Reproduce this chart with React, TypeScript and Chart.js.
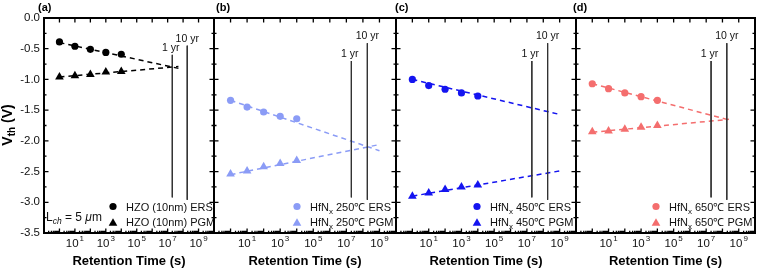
import React, { useEffect, useRef } from "react";
import { Chart, registerables } from "chart.js";

Chart.register(...registerables);

const W = 760;
const H = 270;
const FONT = '"Liberation Sans", Arial, Helvetica, sans-serif';

// ---- data ----
const retentionTime = [1, 10, 100, 1000, 10000];

const ersA = [-0.39, -0.46, -0.51, -0.56, -0.59];
const pgmA = [-0.96, -0.94, -0.92, -0.88, -0.87];
const fitTimeA = [1, 5e7];
const ersFitA = [-0.4, -0.82];
const pgmFitA = [-0.96, -0.79];

const ersB = [-1.34, -1.45, -1.53, -1.6, -1.64];
const pgmB = [-2.54, -2.49, -2.42, -2.37, -2.32];
const fitTimeB = [1, 1e9];
const ersFitB = [-1.34, -2.16];
const pgmFitB = [-2.55, -2.06];

const ersC = [-1.0, -1.1, -1.16, -1.22, -1.27];
const pgmC = [-2.9, -2.85, -2.79, -2.75, -2.72];
const fitTimeC = [1, 1e9];
const ersFitC = [-1.0, -1.57];
const pgmFitC = [-2.9, -2.49];

const ersD = [-1.07, -1.15, -1.22, -1.28, -1.34];
const pgmD = [-1.85, -1.84, -1.81, -1.78, -1.75];
const fitTimeD = [1, 2.5e8];
const ersFitD = [-1.07, -1.66];
const pgmFitD = [-1.86, -1.65];

const yearTimes = [2e7, 1.85e8];
const yearLabels = ["1 yr", "10 yr"];
const yearTopA = [-0.6, -0.45];
const yearTopOther = [-0.7, -0.41];
const yearBottom = [-2.92, -2.96];

const xTickExponents = [1, 3, 5, 7, 9];
const yTickValues = [0, -0.5, -1, -1.5, -2, -2.5, -3, -3.5];
const yTickLabels = ["0.0", "-0.5", "-1.0", "-1.5", "-2.0", "-2.5", "-3.0", "-3.5"];
const panelLabels = ["(a)", "(b)", "(c)", "(d)"];
const materialNames = ["HZO (10nm)", "HfN", "HfN", "HfN"];
const materialTemps = ["", "250℃", "450℃", "650℃"];
const stateNames = ["ERS", "PGM"];
const panelColors = ["#000000", "#8b9cf6", "#1414f0", "#f46e6e"];

type PanelCfg = {
  idx: number;
  left: number;
  right: number;
  labelX: number;
  ers: number[];
  pgm: number[];
  fitT: number[];
  ersFit: number[];
  pgmFit: number[];
  yearTop: number[];
};

const TOP = 18;
const BOTTOM = 233;

const panels: PanelCfg[] = [
  { idx: 0, left: 44, right: 214, labelX: 38, ers: ersA, pgm: pgmA, fitT: fitTimeA, ersFit: ersFitA, pgmFit: pgmFitA, yearTop: yearTopA },
  { idx: 1, left: 214, right: 396, labelX: 216, ers: ersB, pgm: pgmB, fitT: fitTimeB, ersFit: ersFitB, pgmFit: pgmFitB, yearTop: yearTopOther },
  { idx: 2, left: 396, right: 576, labelX: 395, ers: ersC, pgm: pgmC, fitT: fitTimeC, ersFit: ersFitC, pgmFit: pgmFitC, yearTop: yearTopOther },
  { idx: 3, left: 576, right: 757, labelX: 573, ers: ersD, pgm: pgmD, fitT: fitTimeD, ersFit: ersFitD, pgmFit: pgmFitD, yearTop: yearTopOther },
];

function drawTriangle(ctx: CanvasRenderingContext2D, x: number, y: number, r: number) {
  const a = (2 * Math.PI) / 3;
  ctx.beginPath();
  ctx.moveTo(x, y - r);
  ctx.lineTo(x + Math.sin(a) * r, y - Math.cos(a) * r);
  ctx.lineTo(x + Math.sin(2 * a) * r, y - Math.cos(2 * a) * r);
  ctx.closePath();
  ctx.fill();
}

function makeOverlay(p: PanelCfg) {
  const color = panelColors[p.idx];
  return {
    id: "overlay" + p.idx,
    afterDraw(chart: any) {
      const ctx: CanvasRenderingContext2D = chart.ctx;
      const xs = chart.scales.x;
      const ys = chart.scales.y;
      const { left, right, top, bottom } = chart.chartArea;
      ctx.save();

      // year labels
      ctx.fillStyle = "#111";
      ctx.font = `10.5px ${FONT}`;
      ctx.textAlign = "center";
      ctx.textBaseline = "alphabetic";
      yearTimes.forEach((t, i) => {
        const x = xs.getPixelForValue(t);
        const yt = ys.getPixelForValue(p.yearTop[i]);
        ctx.fillText(yearLabels[i], x - (i === 0 ? 1.5 : 0), yt - 4);
      });

      // frame
      ctx.strokeStyle = "#000";
      ctx.lineWidth = 2;
      ctx.strokeRect(left, top, right - left, bottom - top);

      // y ticks
      ctx.lineWidth = 1.3;
      ctx.beginPath();
      for (let k = 0; k <= 14; k++) {
        const v = -0.25 * k;
        const y = ys.getPixelForValue(v);
        const len = k % 2 === 0 ? 4.5 : 2.5;
        ctx.moveTo(left, y);
        ctx.lineTo(left + len, y);
        ctx.moveTo(right, y);
        ctx.lineTo(right - len, y);
      }
      // x ticks
      for (let e = -1; e <= 10; e++) {
        const x = xs.getPixelForValue(Math.pow(10, e));
        if (x < left - 0.5 || x > right + 0.5) continue;
        ctx.moveTo(x, top);
        ctx.lineTo(x, top + 4.5);
        ctx.moveTo(x, bottom);
        ctx.lineTo(x, bottom - 4.5);
        for (let m = 2; m <= 9; m++) {
          const xm = xs.getPixelForValue(m * Math.pow(10, e));
          if (xm >= right) continue;
          ctx.moveTo(xm, bottom);
          ctx.lineTo(xm, bottom - 2.2);
        }
      }
      ctx.stroke();

      // x tick labels
      ctx.fillStyle = "#111";
      ctx.textAlign = "left";
      xTickExponents.forEach((e) => {
        const cx = xs.getPixelForValue(Math.pow(10, e));
        ctx.font = `11.5px ${FONT}`;
        const bw = ctx.measureText("10").width;
        ctx.font = `8px ${FONT}`;
        const sw = ctx.measureText(String(e)).width;
        const x0 = cx - (bw + sw + 1) / 2;
        ctx.font = `11.5px ${FONT}`;
        ctx.fillText("10", x0, 247);
        ctx.font = `8px ${FONT}`;
        ctx.fillText(String(e), x0 + bw + 1, 241);
      });

      // x title
      ctx.font = `bold 13px ${FONT}`;
      ctx.textAlign = "center";
      ctx.fillStyle = "#000";
      ctx.fillText("Retention Time (s)", (left + right) / 2, 265);

      // panel label
      ctx.font = `bold 11px ${FONT}`;
      ctx.textAlign = "left";
      ctx.fillText(panelLabels[p.idx], p.labelX, 11);

      // legend
      const mx = right - (p.idx === 0 ? 101 : 99);
      const rows = [206.5, 222];
      rows.forEach((ry, r) => {
        ctx.fillStyle = color;
        if (r === 0) {
          ctx.beginPath();
          ctx.arc(mx, ry, 3.6, 0, Math.PI * 2);
          ctx.fill();
        } else {
          drawTriangle(ctx, mx, ry + 1.2, 5);
        }
        ctx.fillStyle = "#111";
        ctx.textAlign = "left";
        let tx = mx + 13;
        const by = ry + 4;
        ctx.font = `11px ${FONT}`;
        ctx.fillText(materialNames[p.idx], tx, by);
        tx += ctx.measureText(materialNames[p.idx]).width;
        if (p.idx > 0) {
          ctx.font = `8px ${FONT}`;
          ctx.fillText("x", tx, by + 3);
          tx += ctx.measureText("x").width;
          ctx.font = `11px ${FONT}`;
          const s = " " + materialTemps[p.idx];
          ctx.fillText(s, tx, by);
          tx += ctx.measureText(s).width;
        }
        ctx.font = `11px ${FONT}`;
        ctx.fillText(" " + stateNames[r], tx, by);
      });

      if (p.idx === 0) {
        // y tick labels
        ctx.fillStyle = "#111";
        ctx.font = `11.5px ${FONT}`;
        ctx.textAlign = "right";
        ctx.textBaseline = "middle";
        yTickValues.forEach((v, i) => {
          ctx.fillText(yTickLabels[i], left - 4, ys.getPixelForValue(v));
        });
        ctx.textBaseline = "alphabetic";

        // L_ch = 5 um
        ctx.fillStyle = "#111";
        ctx.textAlign = "left";
        let lx = left + 2;
        const ly = 221;
        ctx.font = `12px ${FONT}`;
        ctx.fillText("L", lx, ly);
        lx += ctx.measureText("L").width;
        ctx.font = `italic 8.5px ${FONT}`;
        ctx.fillText("ch", lx, ly + 3);
        lx += ctx.measureText("ch").width;
        ctx.font = `12px ${FONT}`;
        ctx.fillText(" = 5 ", lx, ly);
        lx += ctx.measureText(" = 5 ").width;
        ctx.font = `italic 12px ${FONT}`;
        ctx.fillText("μ", lx, ly);
        lx += ctx.measureText("μ").width;
        ctx.font = `12px ${FONT}`;
        ctx.fillText("m", lx, ly);

        // y title
        ctx.save();
        ctx.translate(12, 125);
        ctx.rotate(-Math.PI / 2);
        ctx.fillStyle = "#000";
        ctx.font = `bold 14px ${FONT}`;
        const w1 = ctx.measureText("V").width;
        ctx.font = `bold 10px ${FONT}`;
        const w2 = ctx.measureText("th").width;
        ctx.font = `bold 14px ${FONT}`;
        const w3 = ctx.measureText(" (V)").width;
        let vx = -(w1 + w2 + w3) / 2;
        ctx.textAlign = "left";
        ctx.fillText("V", vx, 0);
        vx += w1;
        ctx.font = `bold 10px ${FONT}`;
        ctx.fillText("th", vx, 3);
        vx += w2;
        ctx.font = `bold 14px ${FONT}`;
        ctx.fillText(" (V)", vx, 0);
        ctx.restore();
      }
      ctx.restore();
    },
  };
}

function pts(xs: number[], ys: number[]) {
  return xs.map((x, i) => ({ x, y: ys[i] }));
}

function Panel({ p }: { p: PanelCfg }) {
  const ref = useRef<HTMLCanvasElement>(null);
  useEffect(() => {
    const color = panelColors[p.idx];
    const yearSets = yearTimes.map((t, i) => ({
      data: [
        { x: t, y: p.yearTop[i] },
        { x: t, y: yearBottom[i] },
      ],
      borderColor: "#333",
      borderWidth: 1,
      pointRadius: 0,
      showLine: true,
      fill: false,
    }));
    const chart = new Chart(ref.current as HTMLCanvasElement, {
      type: "line",
      data: {
        datasets: [
          ...yearSets,
          {
            data: pts(p.fitT, p.ersFit),
            borderColor: color,
            borderWidth: 1.5,
            borderDash: [5, 4],
            pointRadius: 0,
            showLine: true,
          },
          {
            data: pts(p.fitT, p.pgmFit),
            borderColor: color,
            borderWidth: 1.5,
            borderDash: [5, 4],
            pointRadius: 0,
            showLine: true,
          },
          {
            data: pts(retentionTime, p.ers),
            showLine: false,
            pointStyle: "circle",
            pointRadius: 3.6,
            pointBackgroundColor: color,
            pointBorderColor: color,
            pointBorderWidth: 0,
          },
          {
            data: pts(retentionTime, p.pgm),
            showLine: false,
            pointStyle: "triangle",
            pointRadius: 5,
            pointBackgroundColor: color,
            pointBorderColor: color,
            pointBorderWidth: 0,
          },
        ] as any,
      },
      options: {
        animation: false,
        responsive: false,
        devicePixelRatio: 1,
        events: [],
        layout: {
          padding: { left: p.left, right: W - p.right, top: TOP, bottom: H - BOTTOM },
        },
        plugins: { legend: { display: false }, tooltip: { enabled: false } },
        scales: {
          x: { type: "logarithmic", min: 0.1, max: 1e10, display: false },
          y: { type: "linear", min: -3.5, max: 0, display: false },
        },
      },
      plugins: [makeOverlay(p) as any],
    });
    return () => chart.destroy();
  }, []);
  return (
    <canvas
      ref={ref}
      width={W}
      height={H}
      style={{ position: "absolute", left: 0, top: 0, width: W, height: H }}
    />
  );
}

export default function App() {
  return (
    <div
      style={{
        position: "absolute",
        left: 0,
        top: 0,
        width: W,
        height: H,
        background: "#fff",
        overflow: "hidden",
      }}
    >
      {panels.map((p) => (
        <Panel key={p.idx} p={p} />
      ))}
    </div>
  );
}
